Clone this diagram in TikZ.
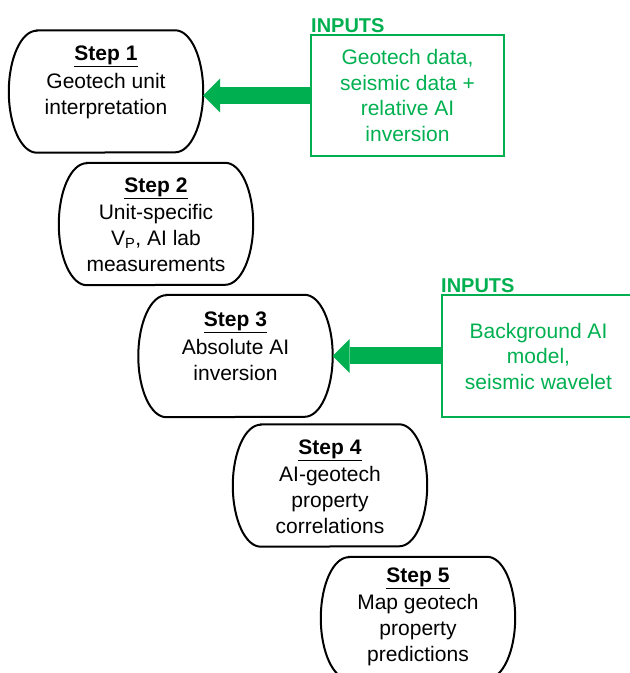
\documentclass[tikz,border=0pt]{standalone}
\usepackage{fontspec}
\setmainfont{Liberation Sans}
\usetikzlibrary{arrows.meta}
\definecolor{gr}{RGB}{0,176,80}
\tikzset{
  x=1pt,y=1pt,
  stepnode/.style={draw=none,minimum width=194pt,minimum height=122pt,inner sep=0pt},
  stepline/.style={draw=black,line width=2pt},
  steptext/.style={anchor=north,inner sep=0pt,align=center,font=\fontsize{21}{26}\selectfont},
  inbox/.style={draw=gr,line width=2pt,minimum width=193pt,minimum height=121pt,inner sep=0pt,
    align=center,text=gr,font=\fontsize{21}{25.5}\selectfont},
  inlabel/.style={anchor=base west,inner sep=0pt,text=gr,font=\fontsize{20}{24}\selectfont\bfseries},
  bigarrow/.style={draw=gr,line width=17pt,-{Triangle[length=17pt,width=34pt,line width=0pt]}}
}
\newcommand{\stepoutline}[1]{%
  \draw[stepline] ([xshift=28pt]#1.north west) -- ([xshift=-28pt]#1.north east)
    arc[start angle=90,end angle=-90,x radius=28pt,y radius=61pt]
    -- ([xshift=28pt]#1.south west)
    arc[start angle=270,end angle=90,x radius=28pt,y radius=61pt] -- cycle;}
\begin{document}
\begin{tikzpicture}
\useasboundingbox (0,0) rectangle (630,673);
% steps
\node[stepnode] (s1) at (106,581.5) {};
\node[stepnode] (s2) at (156,449) {};
\node[stepnode] (s3) at (235.5,317) {};
\node[stepnode] (s4) at (330,187.5) {};
\node[stepnode] (s5) at (418,55) {};
\foreach \s in {s1,s2,s3,s4,s5}{\stepoutline{\s}}
\node[steptext] (t1) at (106,627) {\underline{\textbf{Step 1}}\\[2pt]Geotech unit\\interpretation};
\node[steptext] (t2) at (156,495) {\underline{\textbf{Step 2}}\\[1pt]Unit-specific\\V\textsubscript{P}, AI lab\\measurements};
\node[steptext] (t3) at (235.5,361) {\underline{\textbf{Step 3}}\\[2pt]Absolute AI\\inversion};
\node[steptext] (t4) at (330,233) {\underline{\textbf{Step 4}}\\[1pt]AI-geotech\\property\\correlations};
\node[steptext] (t5) at (418,105) {\underline{\textbf{Step 5}}\\[1pt]Map geotech\\property\\predictions};
% inputs
\node[inbox] (in1) at (407.5,577.5) {Geotech data,\\seismic data +\\relative AI\\inversion};
\node[inlabel] (l1) at (311,640) {INPUTS};
\node[inbox,minimum height=122pt] (in2) at (538.5,317) {Background AI\\model,\\seismic wavelet};
\node[inlabel] (l2) at (441,380) {INPUTS};
% arrows
\draw[bigarrow] (in1.west) -- (s1.east |- in1.west);
\draw[bigarrow] (in2.west) -- (s3.east |- in2.west);
\end{tikzpicture}
\end{document}
